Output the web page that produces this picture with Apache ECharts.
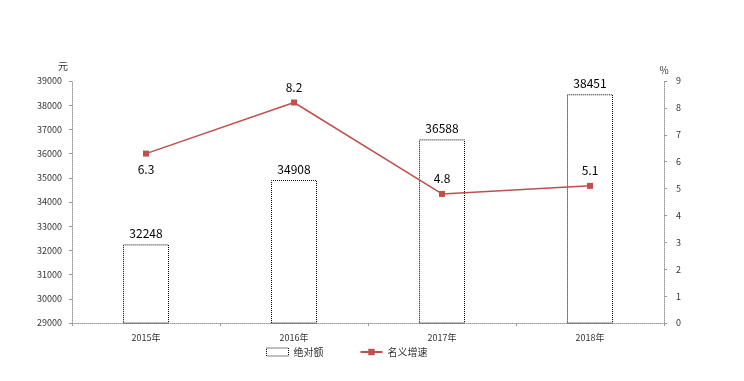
<!DOCTYPE html>
<html><head><meta charset="utf-8">
<script src="https://cdn.jsdelivr.net/npm/echarts@6/dist/echarts.min.js"></script>
<style>html,body{margin:0;padding:0;background:#fff}#c{width:744px;height:381px}</style>
</head><body><div id="c"></div>
<script>
var categories = ['2015年', '2016年', '2017年', '2018年'];
var absoluteValues = [32248, 34908, 36588, 38451];
var growthValues = [6.3, 8.2, 4.8, 5.1];
var growthLabelPos = ['bottom', 'top', 'top', 'top'];
var seriesNames = ['绝对额', '名义增速'];

var chart = echarts.init(document.getElementById('c'), null, {renderer: 'canvas'});
var font = '"Noto Sans CJK SC", "DejaVu Sans", sans-serif';
var axisLineStyle = {color: '#9a9a9a', type: 'dotted', width: 1};
chart.setOption({
  animation: false,
  backgroundColor: '#fff',
  textStyle: {fontFamily: font},
  grid: {left: 72, right: 80, top: 81, bottom: 58},
  legend: {
    bottom: 19, left: 261, itemGap: 36, itemWidth: 22, itemHeight: 8,
    textStyle: {fontSize: 10, color: '#333', fontFamily: font},
    data: [
      {name: seriesNames[0], icon: 'rect', itemStyle: {color: '#fff', borderColor: '#000', borderWidth: 1, borderType: 'dotted'}},
      {name: seriesNames[1]}
    ]
  },
  xAxis: {
    type: 'category', data: categories,
    axisLine: {lineStyle: axisLineStyle},
    axisTick: {show: true, length: 3, lineStyle: {color: '#9a9a9a'}},
    axisLabel: {fontSize: 9, color: '#333', margin: 10}
  },
  yAxis: [
    {type: 'value', min: 29000, max: 39000, interval: 1000, name: '元',
     nameGap: 10, nameTextStyle: {fontSize: 10, color: '#333', align: 'right', padding: [0, 4, 0, 0]},
     axisLine: {show: true, lineStyle: axisLineStyle},
     axisTick: {show: true, length: 3, lineStyle: {color: '#9a9a9a'}},
     splitLine: {show: false},
     axisLabel: {fontSize: 9, color: '#333', margin: 10, formatter: function (v) { return String(v); }}},
    {type: 'value', min: 0, max: 9, interval: 1, name: '%',
     nameGap: 6, nameTextStyle: {fontSize: 10, color: '#333', align: 'center'},
     axisLine: {show: true, lineStyle: axisLineStyle},
     axisTick: {show: true, length: 3, lineStyle: {color: '#9a9a9a'}},
     splitLine: {show: false},
     axisLabel: {fontSize: 9, color: '#333', margin: 12}}
  ],
  series: [
    {name: seriesNames[0], type: 'bar', yAxisIndex: 0, barWidth: 46,
     data: absoluteValues,
     itemStyle: {color: '#fff', borderColor: '#000', borderWidth: 1, borderType: 'dotted'},
     label: {show: true, position: 'top', distance: 5, fontSize: 12, color: '#000'}},
    {name: seriesNames[1], type: 'line', yAxisIndex: 1,
     data: growthValues.map(function (v, i) {
       return {value: v, label: {position: growthLabelPos[i], distance: growthLabelPos[i] === 'bottom' ? 7 : 6}};
     }),
     symbol: 'rect', symbolSize: 6,
     lineStyle: {color: '#c0504d', width: 1.5},
     itemStyle: {color: '#c0504d'},
     label: {show: true, fontSize: 12, color: '#000'}}
  ]
});
</script></body></html>
